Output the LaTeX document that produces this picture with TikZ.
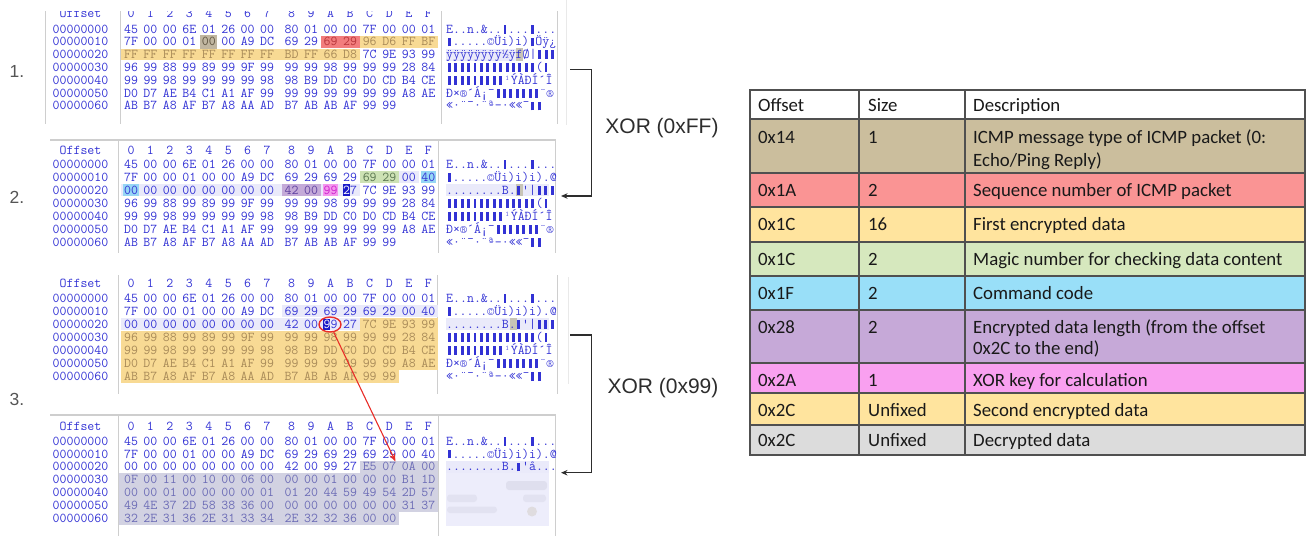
\documentclass[tikz,border=0pt]{standalone}
\usepackage{fontspec}
\setmainfont{Liberation Sans}
\newfontfamily\tabfont{Carlito}
\usetikzlibrary{arrows.meta,shapes.geometric}

% ---------- colours ----------
\definecolor{hexblue}{RGB}{50,50,212}
\definecolor{frameline}{RGB}{206,206,206}
\definecolor{hlYel}{RGB}{248,218,148}
\definecolor{txYel}{RGB}{168,138,88}
\definecolor{hlRed}{RGB}{242,125,125}
\definecolor{txRed}{RGB}{185,55,60}
\definecolor{hlTan}{RGB}{192,182,160}
\definecolor{txTan}{RGB}{95,85,65}
\definecolor{hlLav}{RGB}{234,234,250}
\definecolor{hlSky}{RGB}{150,214,245}
\definecolor{hlGrn}{RGB}{205,226,180}
\definecolor{txGrn}{RGB}{90,118,80}
\definecolor{hlPur}{RGB}{196,170,216}
\definecolor{txPur}{RGB}{95,65,160}
\definecolor{hlMag}{RGB}{244,150,238}
\definecolor{txMag}{RGB}{205,35,205}
\definecolor{hlCur}{RGB}{25,25,200}
\definecolor{hlGry}{RGB}{210,210,226}
\definecolor{txGry}{RGB}{108,108,182}
\definecolor{hlMir}{RGB}{200,196,182}
\definecolor{inkred}{RGB}{232,45,40}
\definecolor{inkgray}{RGB}{45,45,45}
\definecolor{labelgray}{RGB}{85,85,85}
\definecolor{tabline}{RGB}{80,80,80}
\definecolor{tabink}{RGB}{25,25,25}
\definecolor{tTan}{RGB}{203,190,157}
\definecolor{tRed}{RGB}{250,148,148}
\definecolor{tYel}{RGB}{255,228,158}
\definecolor{tGrn}{RGB}{214,232,190}
\definecolor{tBlu}{RGB}{153,223,248}
\definecolor{tPur}{RGB}{198,169,216}
\definecolor{tMag}{RGB}{249,160,240}
\definecolor{tGry}{RGB}{220,220,220}

% ---------- hex editor helpers ----------
\newcommand\hexfont{\ttfamily\fontsize{13.5}{15}\selectfont\addfontfeatures{FakeStretch=0.905,FakeBold=2}}
\newcommand\hxblock{\makebox[6.405pt]{\rule[-0.4pt]{2.9pt}{8.8pt}}}
% caret on the first digit of a byte
\protected\def\hxcur#1{\makebox[0pt][l]{\hspace{-0.5pt}\textcolor{hlCur}{\rule[-1.9pt]{7.3pt}{11.6pt}}}\textcolor{white}{#1}}

% x centre of byte column #1
\pgfmathdeclarefunction{bx}{1}{\pgfmathparse{(#1<8) ? 131+19.45*#1 : 291.5+19.55*(#1-8)}}

\tikzset{
  hx/.style={font=\hexfont, inner sep=0pt, text height=8.2pt, text depth=0pt, text=hexblue},
  asc/.style={hx, anchor=west},
  tt/.style={font=\tabfont\fontsize{18.8}{22}\selectfont, text=tabink, inner sep=0pt, anchor=base west},
  tabrule/.style={draw=tabline, line width=1.2pt, line cap=rect},
  frame/.style={draw=frameline, line width=1pt},
  brk/.style={draw=inkgray, line width=1.3pt, -{Stealth[length=6.5pt,width=5.5pt]}},
  xorlbl/.style={font=\fontsize{21}{25}\selectfont, text=inkgray, inner sep=0pt},
  steplbl/.style={font=\fontsize{17.5}{20}\selectfont, text=labelgray, inner sep=0pt, anchor=west},
}

% one row of 16 bytes; optional ranges from/to/colour recolour the text
\newcommand\hexrow[4][99/99/hexblue]{%
  \edef\hxlist{#4}%
  \foreach \hxb [count=\i from 0] in \hxlist {%
    \gdef\hxc{hexblue}%
    \foreach \hlf/\hlto/\hlc in {#1}{%
      \ifnum\i<\hlf\relax\else\ifnum\i>\hlto\relax\else\xdef\hxc{\hlc}\fi\fi}%
    \node[hx, text=\hxc] (#2-\i) at ({bx(\i)},#3) {\hxb};
  }}
\newcommand\hexhead[2]{%
  \node[hx] (#1-off) at (80.5,#2) {Offset};
  \foreach \hxh [count=\i from 0] in {0,1,2,3,4,5,6,7,8,9,A,B,C,D,E,F}
    {\node[hx] (#1-h\i) at ({bx(\i)},#2) {\hxh};}}
\newcommand\hxoffsets[3]{%
  \foreach \hxr in {0,...,6}
    {\node[hx] (#1-o\hxr) at (80.5,{#2+#3*\hxr}) {000000\hxr0};}}
\newcommand\hxband[5][5.8]{\fill[#5] ({bx(#3)-9.8},{#2-#1}) rectangle ({bx(#4)+9.8},{#2+#1});}
\newcommand\hxtight[3]{\fill[#3] ({bx(#2)-7.6},{#1-5.8}) rectangle ({bx(#2)+7.6},{#1+5.8});}
\newcommand\ascband[2][16]{\fill[hlLav] (445.5,{#2-6}) rectangle ({446+6.405*#1+0.5},{#2+6});}
\newcommand\ascmirror[3]{\fill[#3] ({446+6.405*#2-0.3},{#1-6.2}) rectangle ({446+6.405*(#2+1)+0.3},{#1+6.2});}

% ---------- packet bytes ----------
\newcommand\hxRowZero{45,00,00,6E,01,26,00,00,80,01,00,00,7F,00,00,01}
\newcommand\hxRowOneA{7F,00,00,01,00,00,A9,DC,69,29,69,29,96,D6,FF,BF}
\newcommand\hxRowTwoA{FF,FF,FF,FF,FF,FF,FF,FF,BD,FF,66,D8,7C,9E,93,99}
\newcommand\hxRowOneB{7F,00,00,01,00,00,A9,DC,69,29,69,29,69,29,00,40}
\newcommand\hxRowTwoB{00,00,00,00,00,00,00,00,42,00,99,{\hxcur{2}7},7C,9E,93,99}
\newcommand\hxRowTwoC{00,00,00,00,00,00,00,00,42,00,{\hxcur{9}9},27,7C,9E,93,99}
\newcommand\hxRowThree{96,99,88,99,89,99,9F,99,99,99,98,99,99,99,28,84}
\newcommand\hxRowFour{99,99,98,99,99,99,99,98,98,B9,DD,C0,D0,CD,B4,CE}
\newcommand\hxRowFive{D0,D7,AE,B4,C1,A1,AF,99,99,99,99,99,99,99,A8,AE}
\newcommand\hxRowSix{AB,B7,A8,AF,B7,A8,AA,AD,B7,AB,AB,AF,99,99}
\newcommand\hxRowTwoD{00,00,00,00,00,00,00,00,42,00,99,27,E5,07,0A,00}
\newcommand\hxRowThreeD{0F,00,11,00,10,00,06,00,00,00,01,00,00,00,B1,1D}
\newcommand\hxRowFourD{00,00,01,00,00,00,00,01,01,20,44,59,49,54,2D,57}
\newcommand\hxRowFiveD{49,4E,37,2D,58,38,36,00,00,00,00,00,00,00,31,37}
\newcommand\hxRowSixD{32,2E,31,36,2E,31,33,34,2E,32,32,36,00,00}

% ---------- text column ----------
\newcommand\hxAscZero{E..n.\&..\hxblock...\hxblock...}
\newcommand\hxAscOneA{\hxblock.....©Üi)i)\hxblock{}Öÿ¿}
\newcommand\hxAscTwoA{ÿÿÿÿÿÿÿÿ½ÿfØ|\hxblock\hxblock\hxblock}
\newcommand\hxAscOneB{\hxblock.....©Üi)i)i).@}
\newcommand\hxAscTwoB{........B.\hxblock'|\hxblock\hxblock\hxblock}
\newcommand\hxAscTwoD{........B.\hxblock'å...}
\newcommand\hxAscThree{\hxblock\hxblock\hxblock\hxblock\hxblock\hxblock\hxblock\hxblock\hxblock\hxblock\hxblock\hxblock\hxblock\hxblock(\hxblock}
\newcommand\hxAscFour{\hxblock\hxblock\hxblock\hxblock\hxblock\hxblock\hxblock\hxblock\hxblock{}¹ÝÀÐÍ´Î}
\newcommand\hxAscFive{Ð×®´Á¡¯\hxblock\hxblock\hxblock\hxblock\hxblock\hxblock\hxblock{}¨®}
\newcommand\hxAscSix{«·¨¯·¨ª-·««¯\hxblock\hxblock}

\begin{document}
\begin{tikzpicture}[x=1pt,y=-1pt]
\useasboundingbox (0,0) rectangle (1307,536);

% ================= dump 1 : received packet =================
\begin{scope}
\clip (0,11.5) rectangle (600,130);
\draw[frame] (45,0) -- (45,124) (120,0) -- (120,124) (441,0) -- (441,124) (557.5,0) -- (557.5,124);
\fill[hlTan] ({bx(4)-8.5},34.8) rectangle ({bx(4)+8.5},48.8);
\hxband{41.8}{10}{11}{hlRed}
\hxband{41.8}{12}{15}{hlYel}
\hxband{54.6}{0}{11}{hlYel}
\ascband[12]{54.6}
\ascmirror{54.6}{11}{hlMir}
\hexhead{a}{13}
\hxoffsets{a}{29}{12.8}
\hexrow{a0}{29}{\hxRowZero}
\hexrow[4/4/txTan,10/11/txRed,12/15/txYel]{a1}{41.8}{\hxRowOneA}
\hexrow[0/11/txYel]{a2}{54.6}{\hxRowTwoA}
\hexrow{a3}{67.4}{\hxRowThree}
\hexrow{a4}{80.2}{\hxRowFour}
\hexrow{a5}{93}{\hxRowFive}
\hexrow{a6}{105.8}{\hxRowSix}
\node[asc] (a0-t) at (446,29) {\hxAscZero};
\node[asc] (a1-t) at (446,41.8) {\hxAscOneA};
\node[asc] (a2-t) at (446,54.6) {\hxAscTwoA};
\node[asc] (a3-t) at (446,67.4) {\hxAscThree};
\node[asc] (a4-t) at (446,80.2) {\hxAscFour};
\node[asc] (a5-t) at (446,93) {\hxAscFive};
\node[asc] (a6-t) at (446,105.8) {\hxAscSix};
\end{scope}
\draw[frameline!45] (566,0) -- (566,125);

% ================= dump 2 : after XOR 0xFF =================
\draw[frame, line width=1.6pt] (50,140) -- (556,140);
\draw[frame] (118.5,140) -- (118.5,253) (438.5,140) -- (438.5,253) (555.5,140) -- (555.5,253);
\hxband{177}{12}{13}{hlGrn}
\hxband{177}{14}{14}{hlLav}
\hxtight{177}{15}{hlSky}
\hxband{190}{0}{11}{hlLav}
\hxtight{190}{0}{hlSky}
\hxband{190}{8}{9}{hlPur}
\hxtight{190}{10}{hlMag}
\ascband{190}
\ascmirror{190}{11}{hlMir}
\hexhead{b}{150}
\hxoffsets{b}{164}{13}
\hexrow{b0}{164}{\hxRowZero}
\hexrow[12/13/txGrn]{b1}{177}{\hxRowOneB}
\hexrow[8/9/txPur,10/10/txMag]{b2}{190}{\hxRowTwoB}
\hexrow{b3}{203}{\hxRowThree}
\hexrow{b4}{216}{\hxRowFour}
\hexrow{b5}{229}{\hxRowFive}
\hexrow{b6}{242}{\hxRowSix}
\node[asc] (b0-t) at (446,164) {\hxAscZero};
\node[asc] (b1-t) at (446,177) {\hxAscOneB};
\node[asc] (b2-t) at (446,190) {\hxAscTwoB};
\node[asc] (b3-t) at (446,203) {\hxAscThree};
\node[asc] (b4-t) at (446,216) {\hxAscFour};
\node[asc] (b5-t) at (446,229) {\hxAscFive};
\node[asc] (b6-t) at (446,242) {\hxAscSix};

% ================= dump 3 : key byte located =================
\draw[frame] (118.5,275) -- (118.5,394) (437.5,275) -- (437.5,394) (557,275) -- (557,394);
\draw[frameline!45] (568,277) -- (568,384);
\hxband{311.1}{8}{15}{hlLav}
\hxband{324.2}{0}{11}{hlLav}
\fill[hlYel] ({bx(12)-9.8},317.8) rectangle ({bx(15)+9.8},331);
\fill[hlYel] ({bx(0)-9.8},331) rectangle ({bx(15)+9.8},370.2);
\fill[hlYel] ({bx(0)-9.8},370.2) rectangle ({bx(13)+9.8},383.3);
\ascband{324.2}
\ascmirror{324.2}{10}{hlMir}
\hexhead{c}{283}
\hxoffsets{c}{298}{13.1}
\hexrow{c0}{298}{\hxRowZero}
\hexrow{c1}{311.1}{\hxRowOneB}
\hexrow[12/15/txYel]{c2}{324.2}{\hxRowTwoC}
\hexrow[0/15/txYel]{c3}{337.3}{\hxRowThree}
\hexrow[0/15/txYel]{c4}{350.4}{\hxRowFour}
\hexrow[0/15/txYel]{c5}{363.5}{\hxRowFive}
\hexrow[0/15/txYel]{c6}{376.6}{\hxRowSix}
\node[asc] (c0-t) at (446,298) {\hxAscZero};
\node[asc] (c1-t) at (446,311.1) {\hxAscOneB};
\node[asc] (c2-t) at (446,324.2) {\hxAscTwoB};
\node[asc] (c3-t) at (446,337.3) {\hxAscThree};
\node[asc] (c4-t) at (446,350.4) {\hxAscFour};
\node[asc] (c5-t) at (446,363.5) {\hxAscFive};
\node[asc] (c6-t) at (446,376.6) {\hxAscSix};
\node[ellipse, draw=inkred, line width=1.4pt, minimum width=22pt, minimum height=15pt, inner sep=0pt] (ring) at (330,324.5) {};

% ================= dump 4 : after XOR 0x99 =================
\draw[frame, line width=1.6pt] (50,415) -- (556,415);
\draw[frame] (118.5,415) -- (118.5,536) (438.5,415) -- (438.5,536) (555.5,415) -- (555.5,536);
\fill[hlGry] ({bx(12)-9.8},460.7) rectangle ({bx(15)+9.8},473.3);
\fill[hlGry] (119,473.3) rectangle ({bx(15)+9.8},512);
\fill[hlGry] (119,512) rectangle ({bx(13)+9.8},525);
\ascband{466.8}
% smudged text column
\fill[hlLav!85!white] (445.5,473.3) rectangle (549,526);
\fill[hlGry, opacity=.5, rounded corners=3pt] (506,481) rectangle (547,490);
\fill[hlGry, opacity=.4, rounded corners=3pt] (447,494.5) rectangle (477,502);
\fill[hlGry, opacity=.4, rounded corners=3pt] (523,494.5) rectangle (546,502);
\fill[hlGry, opacity=.4, rounded corners=3pt] (447,506.5) rectangle (497,513);
\fill[hlTan, opacity=.3] (532,511.5) circle (5);
\hexhead{d}{426}
\hxoffsets{d}{441}{12.9}
\hexrow{d0}{441}{\hxRowZero}
\hexrow{d1}{453.9}{\hxRowOneB}
\hexrow[12/15/txGry]{d2}{466.8}{\hxRowTwoD}
\hexrow[0/15/txGry]{d3}{479.7}{\hxRowThreeD}
\hexrow[0/15/txGry]{d4}{492.6}{\hxRowFourD}
\hexrow[0/15/txGry]{d5}{505.5}{\hxRowFiveD}
\hexrow[0/15/txGry]{d6}{518.4}{\hxRowSixD}
\node[asc] (d0-t) at (446,441) {\hxAscZero};
\node[asc] (d1-t) at (446,453.9) {\hxAscOneB};
\node[asc] (d2-t) at (446,466.8) {\hxAscTwoD};

% key byte feeds the decrypted region
\coordinate (tip) at (395.5,461.5);
\draw[inkred, line width=1.1pt, -{Stealth[length=8pt,width=6pt]}] (ring) -- (tip);

% step numbers
\node[steplbl] (s1) at (9.5,71) {1.};
\node[steplbl] (s2) at (9.5,197.5) {2.};
\node[steplbl] (s3) at (9.5,399) {3.};

% XOR brackets
\coordinate (b1a) at (570,69.5);
\coordinate (b1b) at (591.5,69.5);
\coordinate (b1c) at (591.5,196);
\coordinate (b1d) at (561,196);
\draw[brk] (b1a) -- (b1b) -- (b1c) -- (b1d);
\node[xorlbl] (x1) at (662,128) {XOR (0xFF)};
\coordinate (b2a) at (570,335);
\coordinate (b2b) at (591.5,335);
\coordinate (b2c) at (591.5,472.7);
\coordinate (b2d) at (561,472.7);
\draw[brk] (b2a) -- (b2b) -- (b2c) -- (b2d);
\node[xorlbl] (x2) at (663,388) {XOR (0x99)};

% ================= field table =================
\foreach \ya/\yb/\cl in {90/119/white,119/173/tTan,173/207/tRed,207/242/tYel,242/276/tGrn,276/310/tBlu,310/363/tPur,363/393/tMag,393/425/tYel,425/455/tGry}
  {\fill[\cl] (750,\ya) rectangle (1305,\yb);}
\foreach \yy in {90,119,173,207,242,276,310,363,393,425,455}
  {\draw[tabrule] (750,\yy) -- (1305,\yy);}
\foreach \xx in {750,859,965,1305}
  {\draw[tabrule] (\xx,90) -- (\xx,455);}
\foreach \yc/\o/\s/\dsc [count=\k] in {105/Offset/Size/Description,137/0x14/1/ICMP message type of ICMP packet (0:,190/0x1A/2/Sequence number of ICMP packet,224.5/0x1C/16/First encrypted data,259/0x1C/2/Magic number for checking data content,293/0x1F/2/Command code,327/0x28/2/Encrypted data length (from the offset,380/0x2A/1/XOR key for calculation,410/0x2C/Unfixed/Second encrypted data,440/0x2C/Unfixed/Decrypted data}
  {\node[tt] (to\k) at (758,\yc+6) {\o};
   \node[tt] (ts\k) at (868,\yc+6) {\s};
   \node[tt] (td\k) at (973,\yc+6) {\dsc};}
\node[tt] (td2b) at (973,166) {Echo/Ping Reply)};
\node[tt] (td7b) at (973,354.5) {0x2C to the end)};
\end{tikzpicture}
\end{document}
